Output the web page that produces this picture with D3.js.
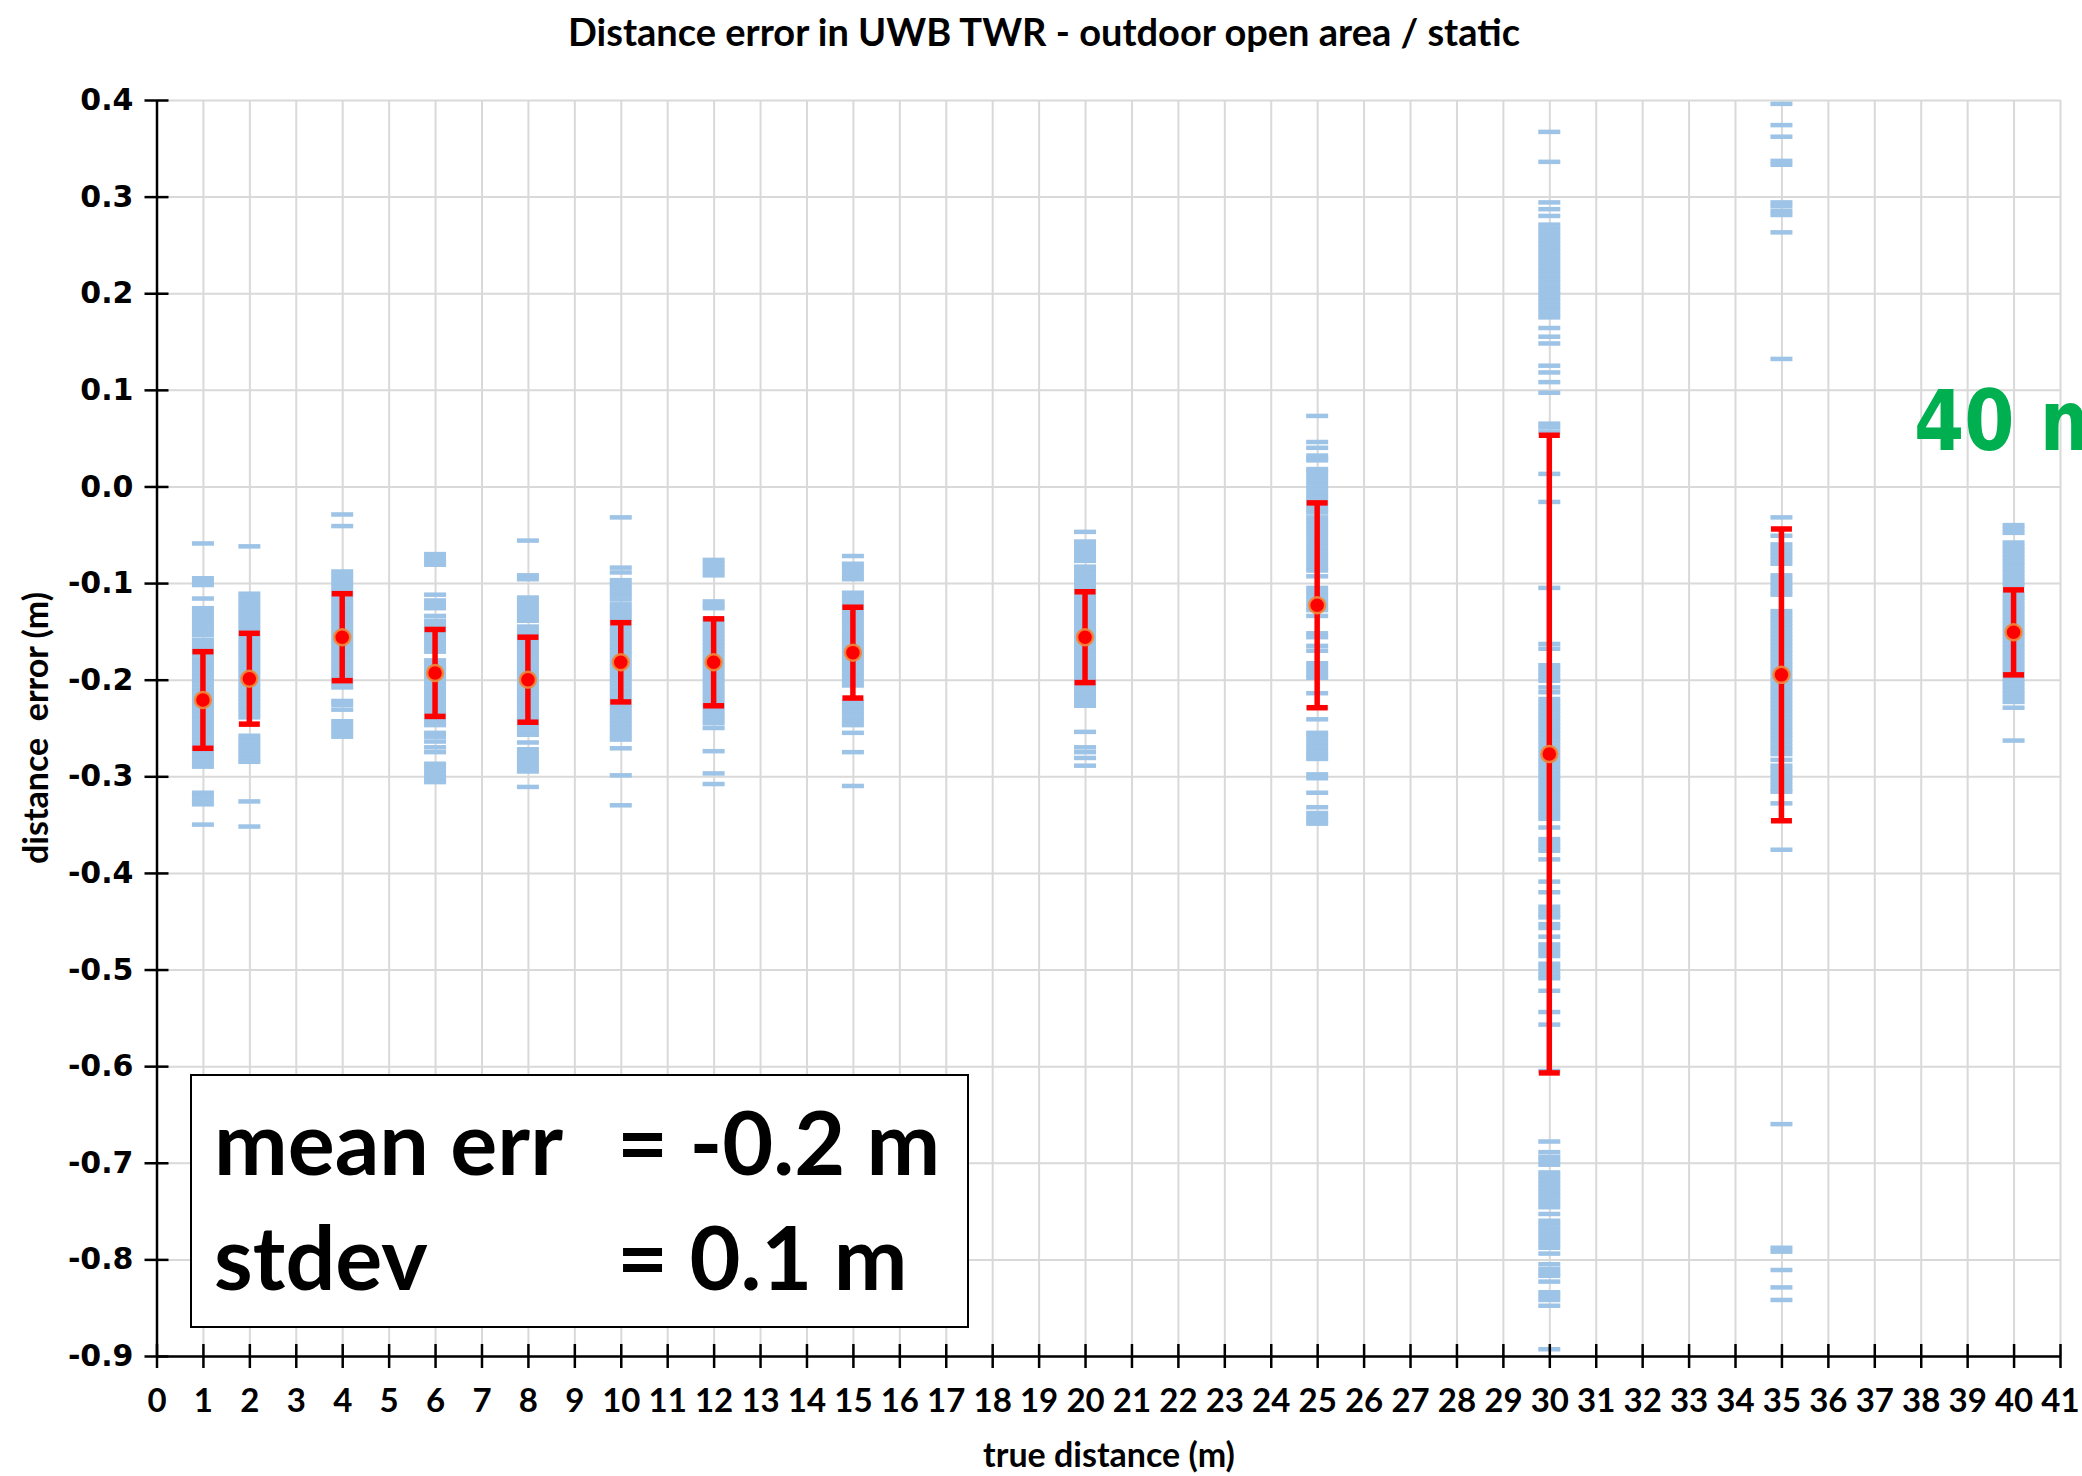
<!DOCTYPE html>
<html>
<head>
<meta charset="utf-8">
<script src="https://cdn.jsdelivr.net/npm/d3@7/dist/d3.min.js"></script>
<style>
  body { margin: 0; background: #fff; }
  .axis path, .axis line { stroke: #000; stroke-width: 2.5; }
  .axis text { fill: #000; }
  .grid line { stroke: #d9d9d9; stroke-width: 2; }
  .grid path { display: none; }
</style>
</head>
<body>
<svg width="2082" height="1476"></svg>
<script>
// true distance (m) of each measurement set
var distances = [1, 2, 4, 6, 8, 10, 12, 15, 20, 25, 30, 35, 40];
// mean error and stdev per distance (red markers + error bars)
var means  = [-0.221, -0.199, -0.156, -0.193, -0.200, -0.182, -0.182, -0.172, -0.156, -0.123, -0.277, -0.195, -0.151];
var stdevs = [0.050, 0.047, 0.045, 0.045, 0.044, 0.041, 0.045, 0.047, 0.047, 0.106, 0.330, 0.151, 0.044];

var xTicks = [0, 1, 2, 3, 4, 5, 6, 7, 8, 9, 10, 11, 12, 13, 14, 15, 16, 17, 18, 19, 20,
              21, 22, 23, 24, 25, 26, 27, 28, 29, 30, 31, 32, 33, 34, 35, 36, 37, 38, 39, 40, 41];
var yTicks = [0.4, 0.3, 0.2, 0.1, 0.0, -0.1, -0.2, -0.3, -0.4, -0.5, -0.6, -0.7, -0.8, -0.9];

// individual distance errors (m)
var samples1 = [-0.059, -0.095, -0.099, -0.102, -0.116, -0.126,
  -0.130, -0.134, -0.138, -0.142, -0.146, -0.150, -0.154, -0.159, -0.162,
  -0.166, -0.170, -0.174, -0.178, -0.182, -0.186, -0.190, -0.194, -0.198, -0.202, -0.206, -0.210, -0.214,
  -0.218, -0.222, -0.226, -0.230, -0.234, -0.238, -0.242, -0.246, -0.250, -0.254, -0.258, -0.262,
  -0.266, -0.270, -0.274, -0.278, -0.282, -0.286, -0.290,
  -0.317, -0.321, -0.325, -0.329, -0.350];
var samples2 = [-0.062, -0.111, -0.115, -0.119, -0.123, -0.127, -0.131, -0.135, -0.139, -0.143, -0.147,
  -0.151, -0.155, -0.159, -0.163, -0.167, -0.171, -0.175, -0.179,
  -0.183, -0.187, -0.191, -0.195, -0.199, -0.203, -0.207, -0.211, -0.215, -0.219, -0.223, -0.227, -0.231, -0.235, -0.239,
  -0.258, -0.262, -0.266, -0.270, -0.274, -0.278, -0.282, -0.285, -0.326, -0.352];
var samples4 = [-0.029, -0.041,
  -0.088, -0.092, -0.096, -0.100, -0.104, -0.108, -0.112, -0.116, -0.120, -0.124,
  -0.128, -0.132, -0.136, -0.140, -0.144, -0.148, -0.152, -0.156, -0.160, -0.164, -0.168, -0.172, -0.176, -0.180, -0.184, -0.188,
  -0.192, -0.196, -0.200, -0.204, -0.208, -0.222, -0.226, -0.231,
  -0.243, -0.247, -0.251, -0.255, -0.259];
var samples6 = [-0.070, -0.074, -0.078, -0.081, -0.112, -0.118, -0.122, -0.126, -0.134,
  -0.139, -0.143, -0.147, -0.151, -0.155, -0.159, -0.163, -0.167, -0.171,
  -0.180, -0.184, -0.188, -0.192, -0.196, -0.200, -0.204, -0.208, -0.212, -0.216, -0.220, -0.224, -0.228, -0.232, -0.236, -0.240, -0.244, -0.247,
  -0.255, -0.259, -0.264, -0.270, -0.275,
  -0.287, -0.291, -0.295, -0.299, -0.303, -0.306];
var samples8 = [-0.056, -0.092, -0.096,
  -0.115, -0.119, -0.123, -0.127, -0.131, -0.135, -0.139,
  -0.145, -0.149, -0.153, -0.157, -0.161, -0.165, -0.169, -0.173, -0.177, -0.181, -0.185, -0.189, -0.193, -0.197,
  -0.201, -0.205, -0.209, -0.213, -0.217, -0.221, -0.225, -0.229, -0.233, -0.237, -0.241, -0.245, -0.249, -0.253, -0.257,
  -0.265, -0.272, -0.276, -0.280, -0.284, -0.288, -0.292, -0.295, -0.311];
var samples10 = [-0.032, -0.084, -0.089,
  -0.097, -0.101, -0.105, -0.109, -0.113, -0.117,
  -0.122, -0.126, -0.130, -0.134, -0.138, -0.142, -0.146, -0.150, -0.154, -0.158, -0.162, -0.166, -0.170, -0.174, -0.178,
  -0.182, -0.186, -0.190, -0.194, -0.198, -0.202, -0.206, -0.210, -0.214, -0.218, -0.222, -0.226, -0.230, -0.234, -0.238,
  -0.242, -0.246, -0.250, -0.254, -0.258, -0.262, -0.271, -0.299, -0.330];
var samples12 = [-0.076, -0.080, -0.084, -0.088, -0.092, -0.119, -0.123, -0.126,
  -0.137, -0.141, -0.145, -0.149, -0.153, -0.157, -0.161, -0.165, -0.169, -0.173, -0.177, -0.181, -0.185, -0.189,
  -0.193, -0.197, -0.201, -0.205, -0.209, -0.213, -0.217, -0.221, -0.225, -0.229, -0.233, -0.237, -0.241, -0.245,
  -0.250, -0.274, -0.297, -0.308];
var samples15 = [-0.072, -0.080, -0.084, -0.088, -0.092, -0.096,
  -0.110, -0.114, -0.118, -0.122, -0.126, -0.130, -0.134, -0.138, -0.142, -0.146, -0.150, -0.154, -0.158, -0.162,
  -0.166, -0.170, -0.174, -0.178, -0.182, -0.186, -0.190, -0.194, -0.198, -0.202, -0.206,
  -0.223, -0.227, -0.231, -0.235, -0.239, -0.243, -0.247, -0.255, -0.275, -0.310];
var samples20 = [-0.047, -0.057, -0.061, -0.065, -0.069, -0.073, -0.077, -0.083, -0.087, -0.091, -0.095,
  -0.099, -0.103, -0.107, -0.111, -0.115, -0.119, -0.123, -0.127, -0.131, -0.135, -0.139, -0.143, -0.147, -0.151,
  -0.155, -0.159, -0.163, -0.167, -0.171, -0.175, -0.179, -0.183, -0.187, -0.191, -0.195, -0.199, -0.203, -0.207,
  -0.211, -0.215, -0.219, -0.223, -0.227, -0.254, -0.270, -0.275, -0.281, -0.289];
var samples25 = [0.073, 0.046, 0.040, 0.032, 0.029, 0.027, 0.018, 0.015, 0.011,
  0.007, 0.003, -0.001, -0.005, -0.009, -0.012, -0.016, -0.020, -0.024, -0.027,
  -0.032, -0.036, -0.040, -0.044, -0.048, -0.052, -0.056, -0.060, -0.064, -0.068, -0.072, -0.076, -0.080, -0.084, -0.087,
  -0.093, -0.105, -0.109, -0.113, -0.117, -0.121, -0.125, -0.128, -0.134, -0.152, -0.156, -0.165, -0.170,
  -0.183, -0.187, -0.191, -0.195, -0.198, -0.214, -0.229, -0.241,
  -0.255, -0.259, -0.263, -0.267, -0.271, -0.275, -0.279, -0.282,
  -0.298, -0.302, -0.317, -0.332, -0.338, -0.342, -0.346, -0.349];
var samples30 = [0.367, 0.336, 0.294, 0.287, 0.280,
  0.271, 0.267, 0.263, 0.259, 0.255, 0.251, 0.247, 0.243, 0.239, 0.235, 0.231, 0.227, 0.223, 0.219, 0.215, 0.211, 0.207,
  0.203, 0.199, 0.195, 0.191, 0.187, 0.183, 0.179, 0.175, 0.164, 0.155, 0.148,
  0.125, 0.118, 0.108, 0.097, 0.065, 0.061, 0.056, 0.013, -0.016, -0.105,
  -0.163, -0.168, -0.185, -0.189, -0.193, -0.197, -0.201, -0.208, -0.213,
  -0.220, -0.224, -0.228, -0.232, -0.236, -0.240, -0.244, -0.248, -0.252, -0.256, -0.260, -0.264, -0.268, -0.272,
  -0.276, -0.280, -0.284, -0.288, -0.292, -0.296, -0.300, -0.304, -0.308, -0.312, -0.316, -0.320, -0.324, -0.328,
  -0.332, -0.336, -0.340, -0.344, -0.353, -0.365, -0.369, -0.373, -0.377, -0.386, -0.409, -0.420,
  -0.435, -0.439, -0.443, -0.446, -0.453, -0.457, -0.466, -0.474, -0.478, -0.482, -0.486,
  -0.494, -0.498, -0.502, -0.506, -0.509, -0.522, -0.544, -0.557, -0.605,
  -0.678, -0.689, -0.694, -0.698, -0.702,
  -0.710, -0.714, -0.718, -0.722, -0.726, -0.730, -0.734, -0.738, -0.742, -0.746, -0.753,
  -0.760, -0.764, -0.768, -0.772, -0.776, -0.780, -0.784, -0.788, -0.794,
  -0.805, -0.810, -0.814, -0.817, -0.823, -0.834, -0.838, -0.842, -0.848, -0.893];
var samples35 = [0.396, 0.374, 0.362, 0.337, 0.333, 0.294, 0.290, 0.285, 0.281, 0.263, 0.132,
  -0.032, -0.051, -0.060, -0.064, -0.068, -0.072, -0.076, -0.080,
  -0.092, -0.096, -0.100, -0.104, -0.108, -0.112,
  -0.129, -0.133, -0.137, -0.141, -0.145, -0.149, -0.153, -0.157, -0.161, -0.165, -0.169,
  -0.173, -0.177, -0.181, -0.185, -0.189, -0.193, -0.197, -0.201, -0.205, -0.209, -0.213, -0.217, -0.221,
  -0.225, -0.229, -0.233, -0.237, -0.241, -0.245, -0.249, -0.253, -0.257, -0.261, -0.265, -0.269, -0.273, -0.277,
  -0.283, -0.289, -0.293, -0.297, -0.301, -0.305, -0.309, -0.313, -0.316, -0.328, -0.376,
  -0.660, -0.788, -0.792, -0.811, -0.829, -0.842];
var samples40 = [-0.040, -0.044, -0.048, -0.058, -0.062, -0.066, -0.070, -0.074, -0.078,
  -0.082, -0.086, -0.090, -0.094, -0.098, -0.102,
  -0.111, -0.115, -0.119, -0.123, -0.127, -0.131, -0.135, -0.139, -0.143, -0.147, -0.151, -0.155, -0.159, -0.163,
  -0.167, -0.171, -0.175, -0.179, -0.183, -0.187, -0.191, -0.195, -0.199, -0.203, -0.207, -0.211, -0.215, -0.219, -0.223,
  -0.229, -0.263];

var sampleSets = [samples1, samples2, samples4, samples6, samples8, samples10, samples12,
                  samples15, samples20, samples25, samples30, samples35, samples40];

var svg = d3.select("svg"),
    margin = {top: 100, right: 22, bottom: 120, left: 156.5},
    width = +svg.attr("width") - margin.left - margin.right,
    height = +svg.attr("height") - margin.top - margin.bottom;

var x = d3.scaleLinear().domain([0, 41]).range([0, width]),
    y = d3.scaleLinear().domain([-0.9, 0.4]).range([height, 0]);

var g = svg.append("g")
    .attr("transform", "translate(" + margin.left + "," + margin.top + ")");

// gridlines
g.append("g")
    .attr("class", "grid")
    .call(d3.axisLeft(y).tickValues(yTicks).tickSize(-width).tickFormat(""));
g.append("g")
    .attr("class", "grid")
    .attr("transform", "translate(0," + height + ")")
    .call(d3.axisBottom(x).tickValues(xTicks.slice(1)).tickSize(-height).tickFormat(""));

// stats box
svg.append("rect")
    .attr("x", 191).attr("y", 1075)
    .attr("width", 777).attr("height", 252)
    .attr("fill", "#fff")
    .attr("stroke", "#000")
    .attr("stroke-width", 2);

var statRows = [["mean err", "= -0.2 m"], ["stdev", "= 0.1 m"]];
statRows.forEach(function(r, i) {
  var t = svg.append("text")
      .attr("y", 1175 + i * 115)
      .style("font-family", "Lato, 'Open Sans', sans-serif")
      .style("font-weight", 700)
      .style("font-size", "88px");
  t.append("tspan").attr("x", 214).text(r[0]);
  t.append("tspan").attr("x", 617).text(r[1]);
});

// individual samples as dashes
var points = [];
distances.forEach(function(d, i) {
  sampleSets[i].forEach(function(v) { points.push({dist: d, err: v}); });
});

g.selectAll(".dash")
    .data(points)
  .enter().append("rect")
    .attr("class", "dash")
    .attr("x", function(d) { return x(d.dist) - 11; })
    .attr("y", function(d) { return y(d.err) - 2.25; })
    .attr("width", 22)
    .attr("height", 4.5)
    .attr("fill", "#9dc3e6");

// mean +/- stdev error bars
var stats = distances.map(function(d, i) { return {dist: d, mean: means[i], sd: stdevs[i]}; });

var bars = g.selectAll(".errbar")
    .data(stats)
  .enter().append("g")
    .attr("class", "errbar")
    .attr("stroke", "#ff0000")
    .attr("stroke-width", 5.5);

bars.append("line")
    .attr("x1", function(d) { return x(d.dist); })
    .attr("x2", function(d) { return x(d.dist); })
    .attr("y1", function(d) { return y(d.mean + d.sd); })
    .attr("y2", function(d) { return y(d.mean - d.sd); });
bars.append("line")
    .attr("x1", function(d) { return x(d.dist) - 10.5; })
    .attr("x2", function(d) { return x(d.dist) + 10.5; })
    .attr("y1", function(d) { return y(d.mean + d.sd); })
    .attr("y2", function(d) { return y(d.mean + d.sd); });
bars.append("line")
    .attr("x1", function(d) { return x(d.dist) - 10.5; })
    .attr("x2", function(d) { return x(d.dist) + 10.5; })
    .attr("y1", function(d) { return y(d.mean - d.sd); })
    .attr("y2", function(d) { return y(d.mean - d.sd); });

g.selectAll(".mean")
    .data(stats)
  .enter().append("circle")
    .attr("class", "mean")
    .attr("cx", function(d) { return x(d.dist); })
    .attr("cy", function(d) { return y(d.mean); })
    .attr("r", 8)
    .attr("fill", "#ff0000")
    .attr("stroke", "#f08a3c")
    .attr("stroke-opacity", 0.9)
    .attr("stroke-width", 2.5);

// axes with ticks crossing the line
var yAxis = g.append("g")
    .attr("class", "axis")
    .call(d3.axisLeft(y).tickValues(yTicks).tickSize(12).tickSizeOuter(0).tickPadding(11)
      .tickFormat(function(d) { return d.toFixed(1); }));
yAxis.selectAll(".tick line").attr("x1", 12);
yAxis.selectAll("text")
    .attr("font-family", "'DejaVu Sans', Verdana, sans-serif")
    .attr("font-weight", "bold")
    .attr("font-size", 30);

var xAxis = g.append("g")
    .attr("class", "axis")
    .attr("transform", "translate(0," + height + ")")
    .call(d3.axisBottom(x).tickValues(xTicks).tickSize(12).tickSizeOuter(0).tickPadding(21)
      .tickFormat(function(d) { return d; }));
xAxis.selectAll(".tick line").attr("y1", -12);
xAxis.selectAll("text")
    .attr("font-family", "Lato, sans-serif")
    .attr("font-weight", "bold")
    .attr("font-size", 33);

// titles
svg.append("text")
    .attr("x", 1044).attr("y", 46)
    .attr("text-anchor", "middle")
    .style("font-family", "Lato, sans-serif")
    .style("font-weight", 700)
    .style("font-size", "38px")
    .text("Distance error in UWB TWR - outdoor open area / static");

svg.append("text")
    .attr("x", 1109).attr("y", 1467)
    .attr("text-anchor", "middle")
    .style("font-family", "Lato, sans-serif")
    .style("font-weight", 700)
    .style("font-size", "34px")
    .text("true distance (m)");

svg.append("text")
    .attr("text-anchor", "middle")
    .attr("transform", "translate(48,728)rotate(-90)")
    .style("font-family", "Lato, sans-serif")
    .style("font-weight", 700)
    .style("font-size", "34px")
    .style("white-space", "pre")
    .text("distance  error (m)");

svg.append("text")
    .attr("transform", "translate(1914,450)scale(0.86,1)")
    .style("font-family", "'DejaVu Sans', sans-serif")
    .style("font-weight", "bold")
    .style("font-size", "84px")
    .style("fill", "#00b050")
    .text("40 m");
</script>
</body>
</html>
